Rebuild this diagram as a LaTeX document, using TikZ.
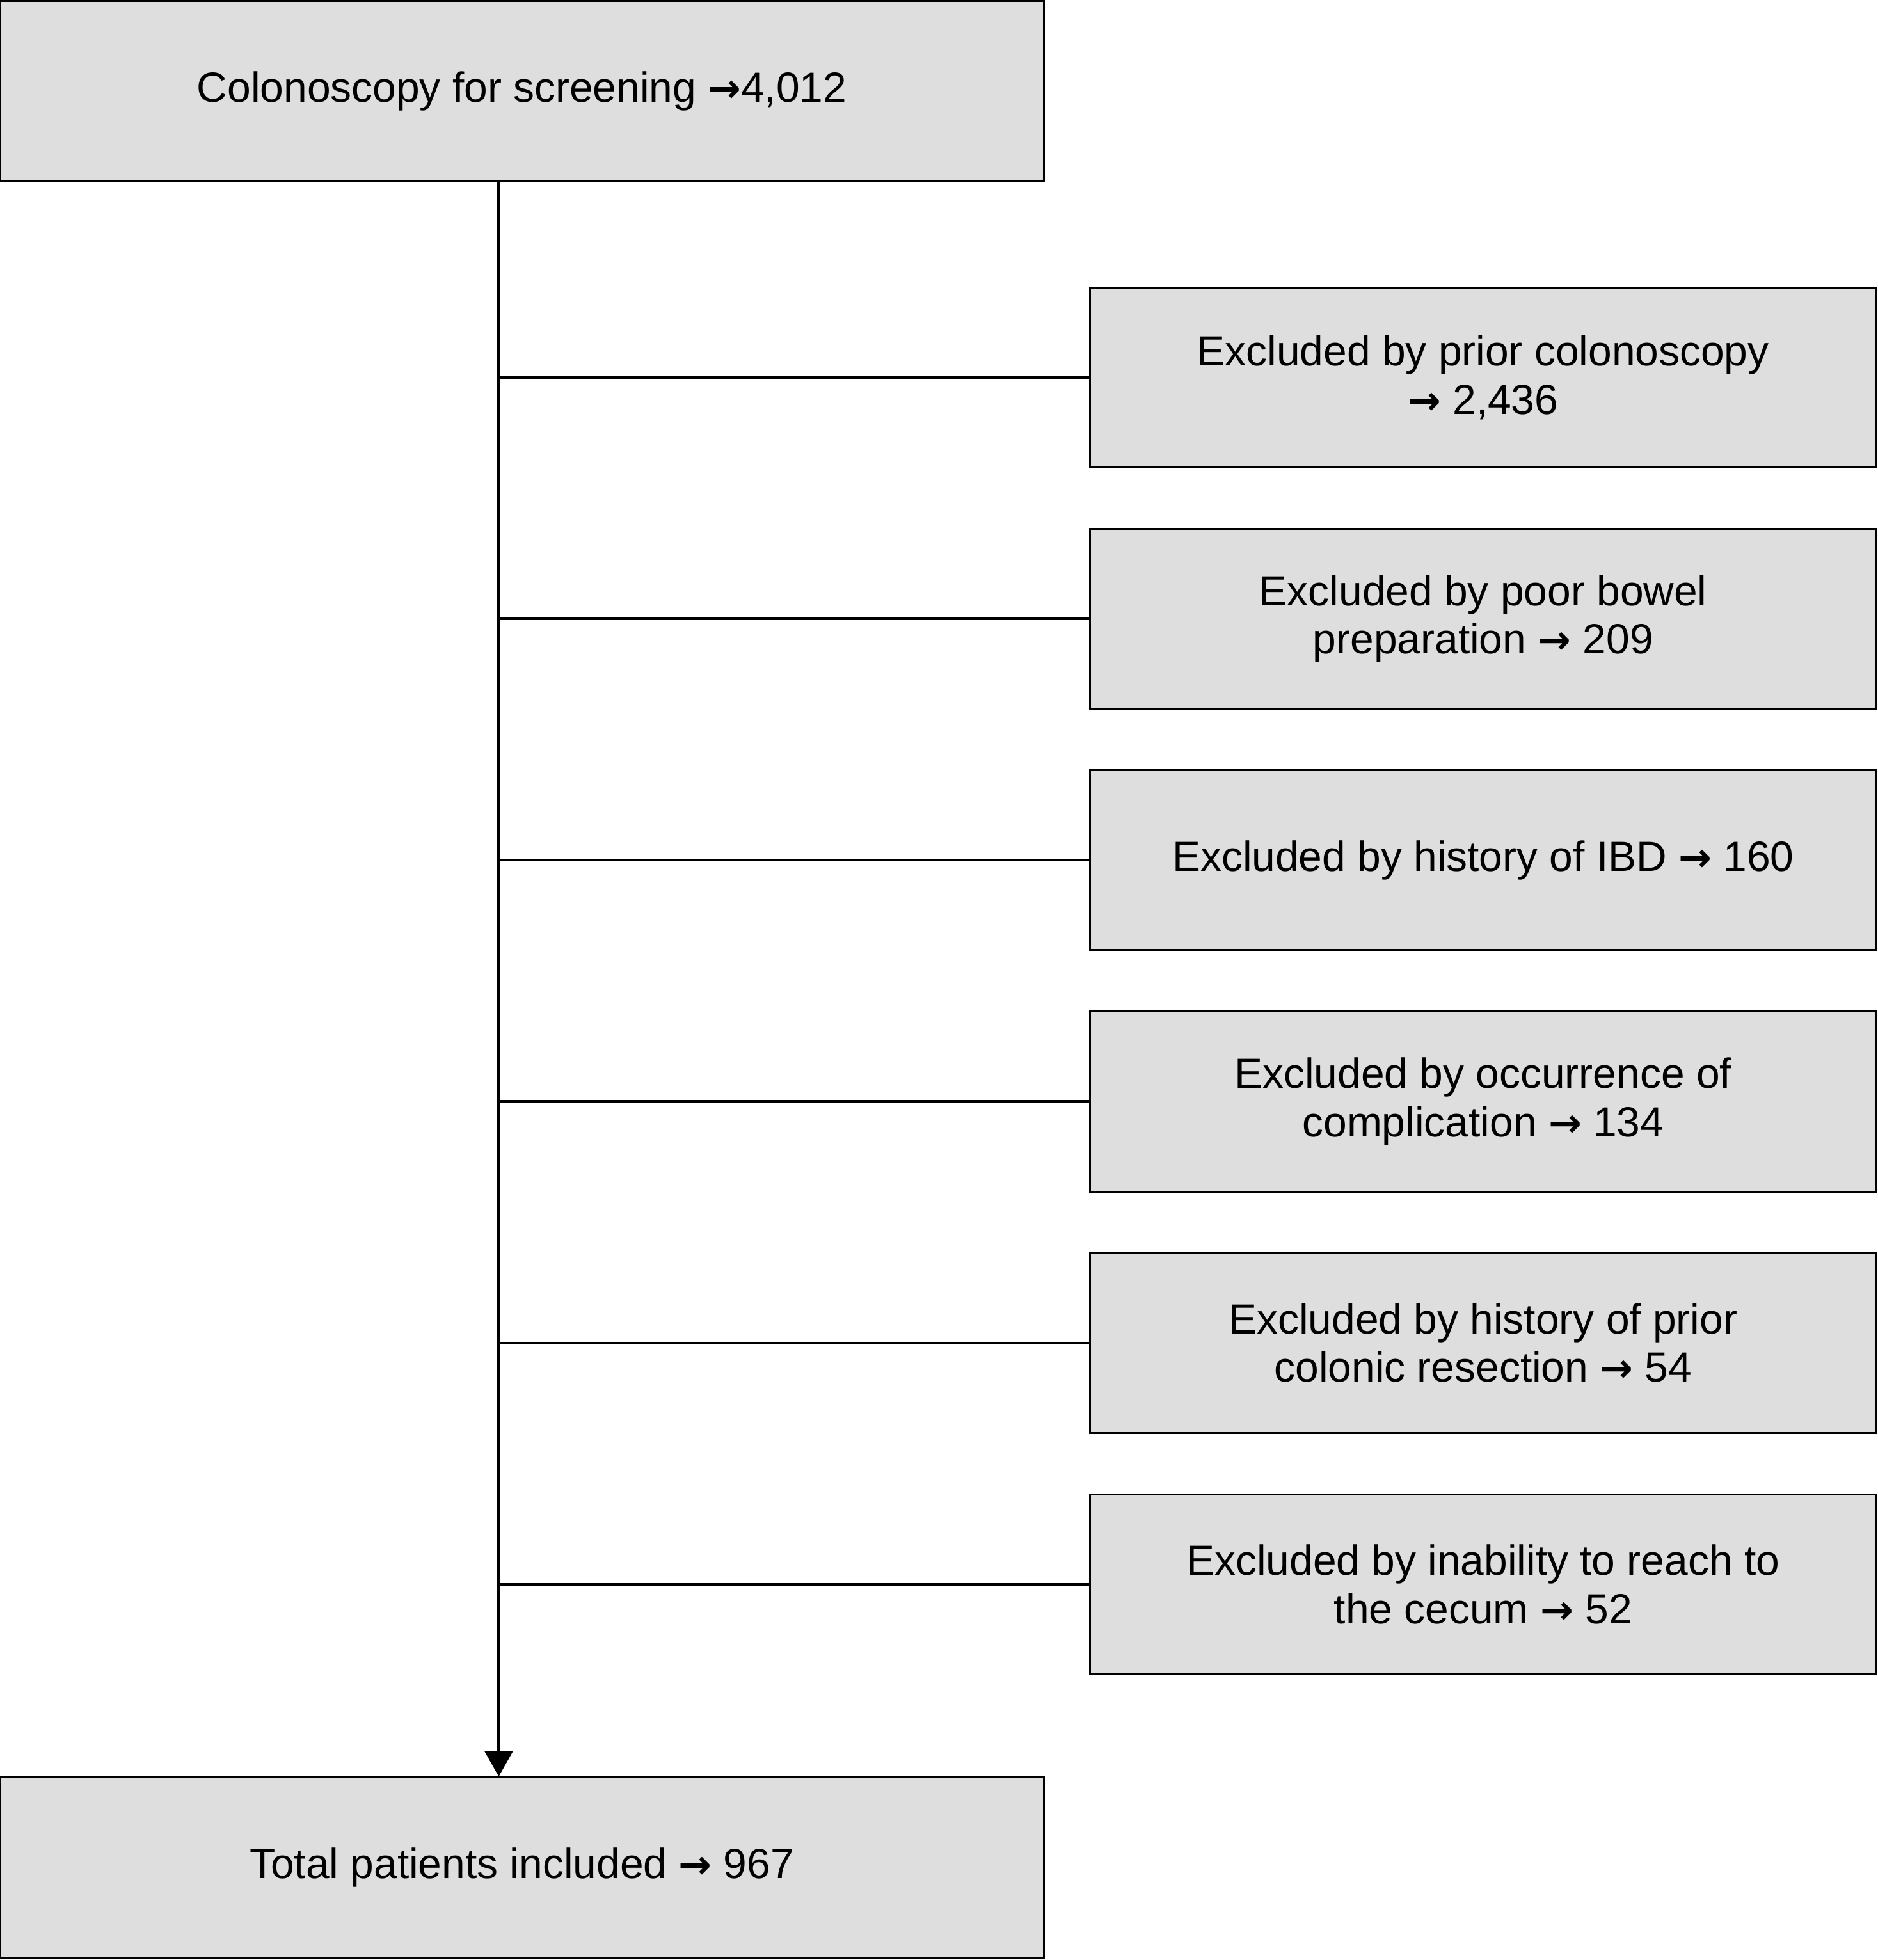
\documentclass[tikz,border=0pt]{standalone}
\usepackage{fontspec}
\setmainfont{Liberation Sans}
\newfontfamily\arrowfont{DejaVu Sans}
\usetikzlibrary{arrows.meta,positioning}
\definecolor{boxgray}{RGB}{222,222,222}
\tikzset{
  mainbox/.style ={draw,fill=boxgray,line width=0.45pt,align=center,
                   font=\fontsize{9.6}{11}\selectfont,
                   minimum width=8.35cm,minimum height=1.44cm,inner sep=2pt},
  exclbox/.style ={draw,fill=boxgray,line width=0.45pt,align=center,
                   font=\fontsize{9.6}{11}\selectfont,
                   minimum width=6.29cm,minimum height=1.44cm,inner sep=2pt},
  ln/.style      ={line width=0.6pt},
  ar/.style      ={line width=0.6pt,-{Triangle[length=2mm,width=2.2mm]}},
}
\newcommand{\ra}{{\arrowfont\bfseries\fontsize{9}{9}\selectfont →}}

\begin{document}
\begin{tikzpicture}
\useasboundingbox (0,0) rectangle (15.02,-15.68);
\node[mainbox] (S) at (4.175,-0.73) {Colonoscopy for screening \ra4,012};
\node[exclbox] (E1) at (11.865,-3.02) {Excluded by prior colonoscopy\\\ra\ 2,436};
\node[exclbox,below=0.475cm of E1] (E2) {Excluded by poor bowel\\preparation \ra\ 209};
\node[exclbox,below=0.475cm of E2] (E3) {Excluded by history of IBD \ra\ 160};
\node[exclbox,below=0.475cm of E3] (E4) {Excluded by occurrence of\\complication \ra\ 134};
\node[exclbox,below=0.475cm of E4] (E5) {Excluded by history of prior\\colonic resection \ra\ 54};
\node[exclbox,below=0.475cm of E5] (E6) {Excluded by inability to reach to\\the cecum \ra\ 52};
\node[mainbox] (B) at (4.175,-14.94) {Total patients included \ra\ 967};
\coordinate (tr) at (3.99,0);
% trunk and side branches
\draw[ar] (S.south -| tr) -- (B.north -| tr);
\foreach \e in {E1,E2,E3,E4,E5,E6}
  \draw[ln] (\e.west) -- (\e.west -| tr);
\end{tikzpicture}
\end{document}
